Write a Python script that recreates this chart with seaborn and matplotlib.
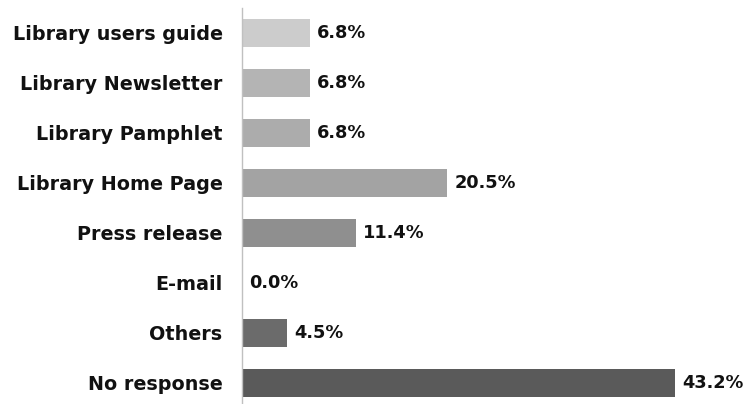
import matplotlib
matplotlib.use("Agg")
import matplotlib.pyplot as plt
import seaborn as sns
import pandas as pd

categories = [
    "Library users guide",
    "Library Newsletter",
    "Library Pamphlet",
    "Library Home Page",
    "Press release",
    "E-mail",
    "Others",
    "No response",
]
percentages = [6.8, 6.8, 6.8, 20.5, 11.4, 0.0, 4.5, 43.2]
bar_colors = ["#cccccc", "#b4b4b4", "#acacac", "#a3a3a3",
              "#8f8f8f", "#7a7a7a", "#6b6b6b", "#5a5a5a"]

sns.set_theme(style="white")
plt.rcParams["font.family"] = ["DejaVu Sans"]

df = pd.DataFrame({"source": categories, "pct": percentages})

fig = plt.figure(figsize=(7.48, 4.04), dpi=100)
ax = fig.add_axes([242 / 748, 0.0, 1 - 242 / 748, 396 / 404])

sns.barplot(data=df, y="source", x="pct", hue="source", order=categories,
            palette=bar_colors, orient="h", width=0.56, legend=False,
            saturation=1, linewidth=0, ax=ax)

ax.set_xlim(0, 50.5)
ax.set_ylim(7.42, -0.5)
ax.set_xlabel("")
ax.set_ylabel("")
ax.set_xticks([])
for side in ("top", "right", "bottom"):
    ax.spines[side].set_visible(False)
ax.spines["left"].set_color("#c0c0c0")
ax.spines["left"].set_linewidth(1.0)

ax.tick_params(axis="y", length=0, pad=14)
for lbl in ax.get_yticklabels():
    lbl.set_fontweight("bold")
    lbl.set_fontsize(13.8)
    lbl.set_color("#111111")

# percentage labels just past the end of each bar
for i, v in enumerate(percentages):
    ax.text(v + 0.7, i, f"{v:.1f}%", va="center", ha="left",
            fontsize=12.8, fontweight="bold", color="#111111")

fig.savefig("out.png", dpi=100)
